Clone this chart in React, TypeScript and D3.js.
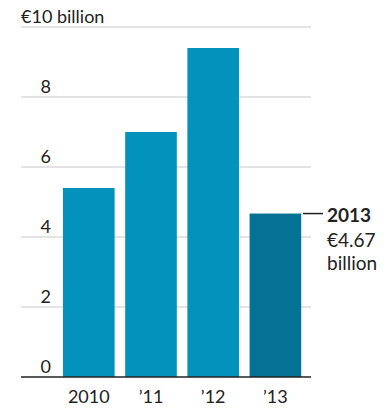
import { useEffect, useRef } from "react";
import * as d3 from "d3";

// Data
const years = ["2010", "'11", "'12", "'13"];
const values = [5.4, 7.0, 9.4, 4.67];
const yTicks = [0, 2, 4, 6, 8, 10];

const App = () => {
  const svgRef = useRef<SVGSVGElement>(null);

  useEffect(() => {
    const width = 391;
    const height = 408;
    const font = "Lato, 'Open Sans', sans-serif";

    d3.select(svgRef.current).selectAll("*").remove();

    const svg = d3
      .select(svgRef.current)
      .attr("width", width)
      .attr("height", height)
      .style("font-family", font);

    // Scales
    const x = d3
      .scaleBand()
      .domain(years)
      .range([57.7, 306.5])
      .paddingInner(0.17)
      .paddingOuter(0.085);

    const y = d3.scaleLinear().domain([0, 10]).range([377, 27]);

    const gridLeft = 21;
    const gridRight = 311;

    // Gridlines
    svg
      .append("g")
      .selectAll("line")
      .data(yTicks.filter((d) => d > 0))
      .enter()
      .append("line")
      .attr("x1", gridLeft)
      .attr("x2", gridRight)
      .attr("y1", (d) => y(d))
      .attr("y2", (d) => y(d))
      .attr("stroke", "#c8c8c8")
      .attr("stroke-width", 1.2);

    // Y labels
    svg
      .append("g")
      .selectAll("text")
      .data(yTicks)
      .enter()
      .append("text")
      .attr("x", (d) => (d === 10 ? gridLeft : 51))
      .attr("y", (d) => y(d) - 4)
      .attr("text-anchor", (d) => (d === 10 ? "start" : "end"))
      .attr("font-size", 18)
      .attr("fill", "#222")
      .text((d) => (d === 10 ? "€10 billion" : String(d)));

    // Bars
    svg
      .append("g")
      .selectAll("rect")
      .data(values)
      .enter()
      .append("rect")
      .attr("x", (_d, i) => x(years[i]) as number)
      .attr("y", (d) => y(d))
      .attr("width", x.bandwidth())
      .attr("height", (d) => y(0) - y(d))
      .attr("fill", (_d, i) => (i === values.length - 1 ? "#037294" : "#0392bb"));

    // Baseline
    svg
      .append("line")
      .attr("x1", gridLeft)
      .attr("x2", gridRight)
      .attr("y1", y(0))
      .attr("y2", y(0))
      .attr("stroke", "#222")
      .attr("stroke-width", 1.5);

    // X labels
    svg
      .append("g")
      .selectAll("text")
      .data(years)
      .enter()
      .append("text")
      .attr("x", (d) => (x(d) as number) + x.bandwidth() / 2)
      .attr("y", 403)
      .attr("text-anchor", "middle")
      .attr("font-size", 18)
      .attr("fill", "#222")
      .text((d) => d.replace("'", "\u2019"));

    // Annotation for 2013
    const last = values[values.length - 1];
    const ay = y(last);
    svg
      .append("line")
      .attr("x1", 303)
      .attr("x2", 323)
      .attr("y1", ay)
      .attr("y2", ay)
      .attr("stroke", "#222")
      .attr("stroke-width", 1.5);

    const ann = svg
      .append("text")
      .attr("x", 327)
      .attr("font-size", 19)
      .attr("fill", "#222");
    ann
      .append("tspan")
      .attr("x", 327)
      .attr("y", ay + 8)
      .attr("font-weight", "bold")
      .text("2013");
    ann
      .append("tspan")
      .attr("x", 327)
      .attr("y", ay + 33)
      .text(`€${last.toFixed(2)}`);
    ann
      .append("tspan")
      .attr("x", 327)
      .attr("y", ay + 56)
      .text("billion");
  }, []);

  return <svg ref={svgRef} style={{ position: "absolute", left: 0, top: 0 }}></svg>;
};

export default App;
